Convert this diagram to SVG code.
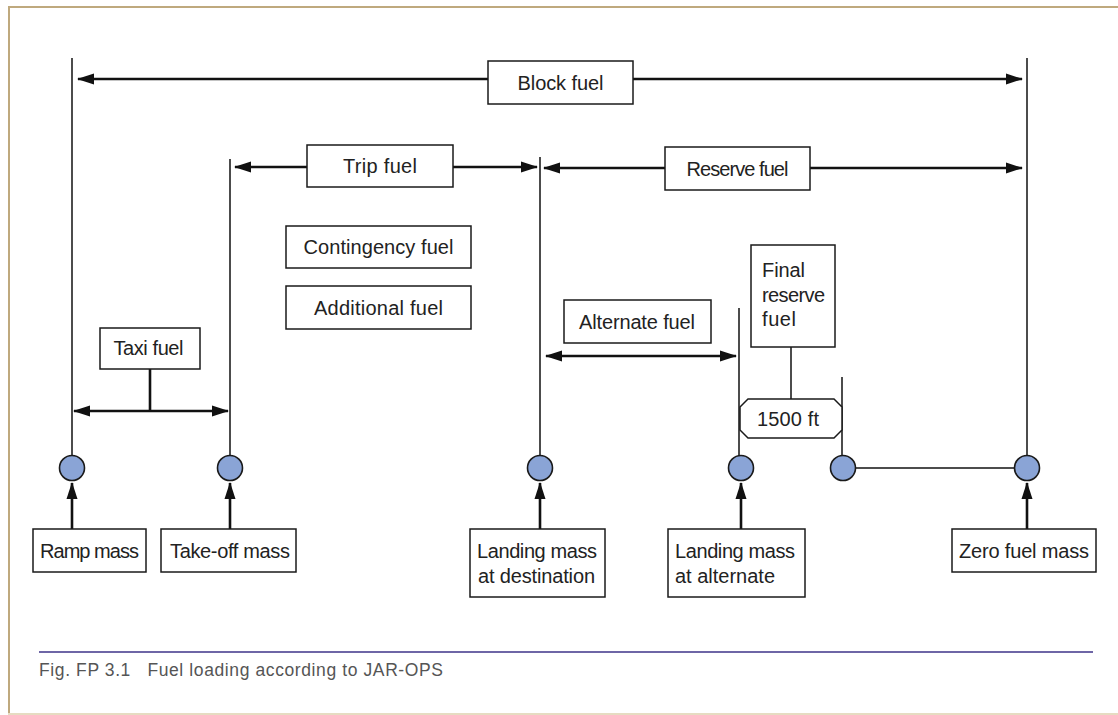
<svg xmlns="http://www.w3.org/2000/svg" width="1118" height="715" viewBox="0 0 1118 715">
<style>
.box{fill:#fff;stroke:#1a1a1a;stroke-width:1.5}
.t{font-family:"Liberation Sans",Arial,sans-serif;font-size:20px;fill:#222}
.c{text-anchor:middle}
.v{stroke:#111;stroke-width:1.5;fill:none}
.a{stroke:#111;stroke-width:2.6;fill:none}
.dot{fill:#8aa4d6;stroke:#1a1a1a;stroke-width:1.6}
</style>
<defs>
<marker id="ah" markerUnits="userSpaceOnUse" markerWidth="18" markerHeight="12" refX="16" refY="6" orient="auto-start-reverse">
<path d="M0,0.5 L17,6 L0,11.5 z" fill="#111"/>
</marker>
</defs>
<rect x="0" y="0" width="1118" height="715" fill="#fff"/>
<g id="frame">
<line x1="8" y1="7" x2="1118" y2="7" stroke="#bfa97e" stroke-width="2"/>
<line x1="9" y1="6" x2="9" y2="715" stroke="#bfa97e" stroke-width="2"/>
<line x1="8" y1="714" x2="1118" y2="714" stroke="#e6dcc2" stroke-width="2"/>
</g>
<g id="connectors">
<line class="v" x1="72" y1="58" x2="72" y2="456"/>
<line class="v" x1="230" y1="159" x2="230" y2="456"/>
<line class="v" x1="540" y1="157" x2="540" y2="456"/>
<line class="v" x1="739" y1="308" x2="739" y2="456"/>
<line class="v" x1="842" y1="377" x2="842" y2="456"/>
<line class="v" x1="1027" y1="58" x2="1027" y2="456"/>
<line class="v" x1="855" y1="468" x2="1015" y2="468"/>
<line class="v" x1="791" y1="347" x2="791" y2="399"/>
<line class="a" x1="78" y1="79" x2="1022" y2="79" marker-start="url(#ah)" marker-end="url(#ah)"/>
<line class="a" x1="235" y1="167" x2="537" y2="167" marker-start="url(#ah)" marker-end="url(#ah)"/>
<line class="a" x1="544" y1="168" x2="1022" y2="168" marker-start="url(#ah)" marker-end="url(#ah)"/>
<line class="a" x1="74" y1="411" x2="228" y2="411" marker-start="url(#ah)" marker-end="url(#ah)"/>
<line class="a" x1="150" y1="369" x2="150" y2="411"/>
<line class="a" x1="546" y1="356" x2="736" y2="356" marker-start="url(#ah)" marker-end="url(#ah)"/>
<line class="a" x1="72" y1="529" x2="72" y2="483" marker-end="url(#ah)"/>
<line class="a" x1="230" y1="529" x2="230" y2="483" marker-end="url(#ah)"/>
<line class="a" x1="540" y1="529" x2="540" y2="483" marker-end="url(#ah)"/>
<line class="a" x1="741" y1="529" x2="741" y2="483" marker-end="url(#ah)"/>
<line class="a" x1="1027" y1="529" x2="1027" y2="483" marker-end="url(#ah)"/>
</g>
<g id="block-fuel"><rect class="box" x="488" y="61" width="145" height="43"/><text class="t c" x="560.5" y="90" textLength="86">Block fuel</text></g>
<g id="trip-fuel"><rect class="box" x="307" y="145" width="146" height="42"/><text class="t c" x="380" y="173" textLength="74">Trip fuel</text></g>
<g id="reserve-fuel"><rect class="box" x="665" y="147" width="145" height="43"/><text class="t c" x="737.5" y="176" textLength="102">Reserve fuel</text></g>
<g id="contingency-fuel"><rect class="box" x="286" y="226" width="185" height="42"/><text class="t c" x="378.5" y="254" textLength="150">Contingency fuel</text></g>
<g id="additional-fuel"><rect class="box" x="286" y="286" width="185" height="43"/><text class="t c" x="378.5" y="315" textLength="129">Additional fuel</text></g>
<g id="taxi-fuel"><rect class="box" x="100" y="328" width="100" height="41"/><text class="t c" x="148.5" y="355" textLength="70">Taxi fuel</text></g>
<g id="alternate-fuel"><rect class="box" x="564" y="300" width="147" height="43"/><text class="t c" x="637" y="329" textLength="116">Alternate fuel</text></g>
<g id="final-reserve-fuel"><rect class="box" x="751" y="245" width="84" height="102"/>
<text class="t" x="762" y="277" textLength="43">Final</text><text class="t" x="762" y="302" textLength="63">reserve</text><text class="t" x="762" y="326" textLength="34">fuel</text></g>
<g id="alt-1500ft"><path class="box" d="M748,399 L834,399 L842,407 L842,430 L834,438 L748,438 L740,430 L740,407 Z"/><text class="t c" x="788" y="426" textLength="62">1500 ft</text></g>
<g id="circles">
<circle class="dot" cx="72" cy="468" r="12.5"/>
<circle class="dot" cx="230" cy="468" r="12.5"/>
<circle class="dot" cx="540" cy="468" r="12.5"/>
<circle class="dot" cx="741" cy="468" r="12.5"/>
<circle class="dot" cx="843" cy="468" r="12.5"/>
<circle class="dot" cx="1027" cy="468" r="12.5"/>
</g>
<g id="ramp-mass"><rect class="box" x="33" y="529" width="113" height="43"/><text class="t c" x="89.5" y="558" textLength="99">Ramp mass</text></g>
<g id="takeoff-mass"><rect class="box" x="161" y="529" width="135" height="43"/><text class="t c" x="230" y="558" textLength="120">Take-off mass</text></g>
<g id="landing-dest"><rect class="box" x="470" y="529" width="135" height="68"/><text class="t" x="477" y="558" textLength="120">Landing mass</text><text class="t" x="478" y="583" textLength="117">at destination</text></g>
<g id="landing-alt"><rect class="box" x="668" y="529" width="137" height="68"/><text class="t" x="675" y="558" textLength="120">Landing mass</text><text class="t" x="675" y="583" textLength="100">at alternate</text></g>
<g id="zero-fuel-mass"><rect class="box" x="952" y="529" width="144" height="43"/><text class="t c" x="1024" y="558" textLength="130">Zero fuel mass</text></g>
<g id="caption">
<line x1="39" y1="652" x2="1093" y2="652" stroke="#6e66a6" stroke-width="2.2"/>
<text x="39" y="676" font-family="Liberation Sans, Arial, sans-serif" font-size="17.5" fill="#555" textLength="404" xml:space="preserve">Fig. FP 3.1   Fuel loading according to JAR-OPS</text>
</g>
</svg>
